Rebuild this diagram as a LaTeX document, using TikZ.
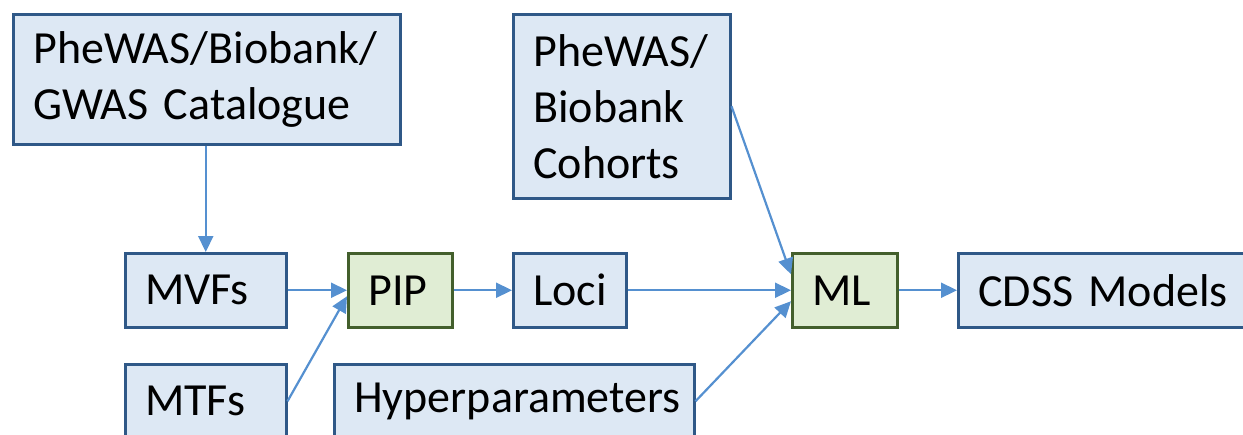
\documentclass[tikz,border=0pt]{standalone}
\usepackage{fontspec}
\setmainfont{Carlito}
\usetikzlibrary{arrows.meta}
\definecolor{bfill}{HTML}{DDE8F4}
\definecolor{bdraw}{HTML}{2F5887}
\definecolor{gfill}{HTML}{E0EDD4}
\definecolor{gdraw}{HTML}{435F2C}
\definecolor{arr}{HTML}{5590D0}
\begin{document}
\begin{tikzpicture}[x=1pt,y=-1pt,
  box/.style={draw=bdraw, fill=bfill, line width=2.5pt, anchor=north west,
    inner xsep=20pt, inner ysep=0pt, align=left,
    font=\fontsize{46}{56}\selectfont},
  gbox/.style={box, draw=gdraw, fill=gfill},
  conn/.style={draw=arr, line width=2.2pt, -{Triangle[length=16pt,width=15pt]}}]
\useasboundingbox (0,0) rectangle (1243,434);
\clip (0,0) rectangle (1243,434);
\node[box, minimum width=387pt, minimum height=130pt, text width=347pt] (gwas) at (12,13) {PheWAS/Biobank/\\GWAS Catalogue};
\node[box, minimum width=217pt, minimum height=184pt, text width=177pt] (cohorts) at (512,13) {PheWAS/\\Biobank\\Cohorts};
\node[box, minimum width=161pt, minimum height=74pt, text width=121pt] (mvfs) at (124,252) {MVFs};
\node[box, minimum width=161pt, minimum height=74pt, text width=121pt] (mtfs) at (124,363) {MTFs};
\node[gbox, minimum width=104pt, minimum height=74pt, text width=64pt] (pip) at (347,252) {PIP};
\node[box, minimum width=113pt, minimum height=74pt, text width=73pt] (loci) at (512,252) {Loci};
\node[box, minimum width=360pt, minimum height=74pt, text width=320pt] (hyper) at (333,363) {Hyperparameters};
\node[gbox, minimum width=105pt, minimum height=74pt, text width=65pt] (ml) at (791,252) {ML};
\node[box, minimum width=320pt, minimum height=74pt, text width=280pt] (cdss) at (957,252) {CDSS Models};

\draw[conn] (mvfs.north |- gwas.south) -- (mvfs.north);
\draw[conn] (mvfs.east) -- (pip.west);
\draw[conn] (mtfs.east) -- ([yshift=-6pt]pip.west);
\draw[conn] (pip.east) -- (loci.west);
\draw[conn] (loci.east) -- (ml.west);
\draw[conn] (cohorts.east) -- ([yshift=16pt]ml.west);
\draw[conn] (hyper.east) -- ([yshift=-11pt]ml.west);
\draw[conn] (ml.east) -- (cdss.west);
\end{tikzpicture}
\end{document}
